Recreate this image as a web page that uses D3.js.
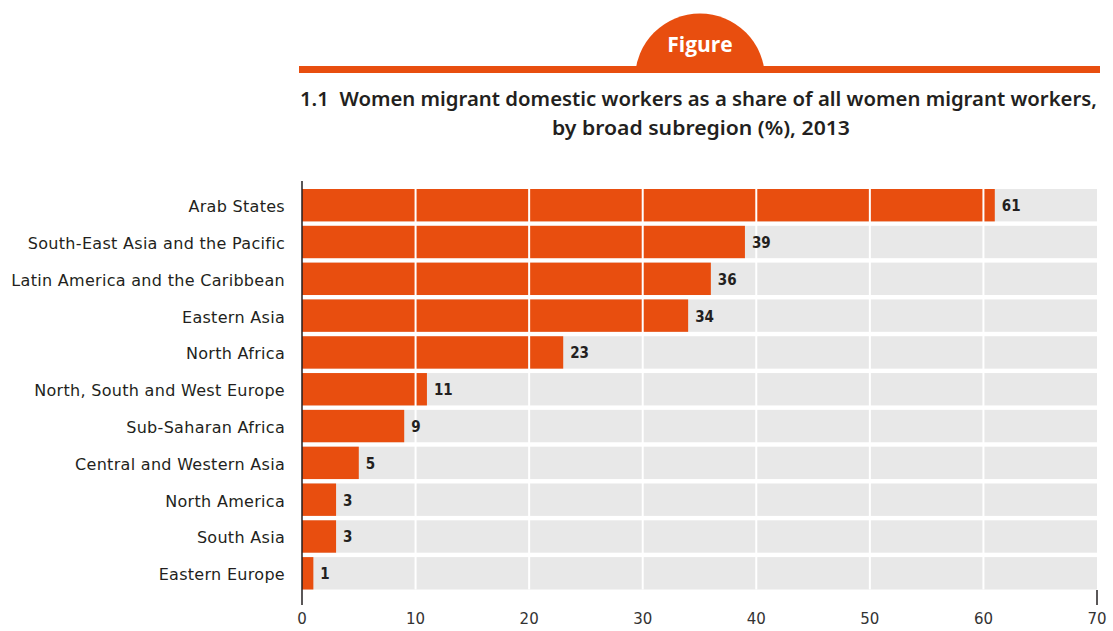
<html>
<head>
    <style>
        body { margin: 0; background: #fff; }
    </style>
    <script src="https://d3js.org/d3.v7.min.js"></script>
</head>
<body>
    <svg width=1113 height=631></svg>
</body>
<script>

    // values
    const categories = ["Arab States", "South-East Asia and the Pacific", "Latin America and the Caribbean",
        "Eastern Asia", "North Africa", "North, South and West Europe", "Sub-Saharan Africa",
        "Central and Western Asia", "North America", "South Asia", "Eastern Europe"];
    const shares = [61, 39, 36, 34, 23, 11, 9, 5, 3, 3, 1];
    const tickValues = [0, 10, 20, 30, 40, 50, 60, 70];
    const titleLines = ["1.1  Women migrant domestic workers as a share of all women migrant workers,",
        "by broad subregion (%), 2013"];

    const data = categories.map((c, i) => ({ name: c, value: shares[i] }));

    const orange = "#e84e0f";
    const grey = "#e8e8e8";
    const ink = "#231f20";
    const labelFont = "'DejaVu Sans', sans-serif";

    const svg = d3.select("svg");

    let x = d3.scaleLinear()
        .domain([0, 70])
        .range([302, 1097]);

    let y = d3.scaleBand()
        .domain(categories)
        .range([189, 589.5])
        .paddingInner(0.12)
        .paddingOuter(0);

    // header: orange rule with the "Figure" dome
    const header = svg.append("g");
    header.append("clipPath").attr("id", "dome")
        .append("rect").attr("x", 600).attr("y", 0).attr("width", 200).attr("height", 70);
    header.append("circle")
        .attr("cx", 700).attr("cy", 78.5).attr("r", 65)
        .attr("fill", orange)
        .attr("clip-path", "url(#dome)");
    header.append("rect")
        .attr("x", 299).attr("y", 66).attr("width", 801).attr("height", 7)
        .attr("fill", orange);
    header.append("text")
        .attr("x", 700).attr("y", 52)
        .attr("text-anchor", "middle")
        .attr("fill", "#fff")
        .style("font", "bold 21px 'Open Sans', sans-serif")
        .text("Figure");

    // title
    svg.append("text")
        .attr("x", 300).attr("y", 106)
        .attr("textLength", 797).attr("lengthAdjust", "spacingAndGlyphs")
        .attr("fill", ink)
        .style("white-space", "pre")
        .style("font", "600 20px 'Noto Sans', sans-serif")
        .text(titleLines[0]);
    svg.append("text")
        .attr("x", 552).attr("y", 135)
        .attr("textLength", 298).attr("lengthAdjust", "spacingAndGlyphs")
        .attr("fill", ink)
        .style("font", "600 20px 'Noto Sans', sans-serif")
        .text(titleLines[1]);

    // grey row backgrounds
    svg.append("g")
        .selectAll("rect")
        .data(data)
        .join("rect")
            .attr("x", x(0))
            .attr("y", d => y(d.name))
            .attr("width", x(70) - x(0))
            .attr("height", y.bandwidth())
            .attr("fill", grey);

    // bars
    svg.append("g")
        .selectAll("rect")
        .data(data)
        .join("rect")
            .attr("x", x(0))
            .attr("y", d => y(d.name))
            .attr("width", d => x(d.value) - x(0))
            .attr("height", y.bandwidth())
            .attr("fill", orange);

    // white vertical gridlines over bars
    svg.append("g")
        .selectAll("line")
        .data(tickValues.slice(1, -1))
        .join("line")
            .attr("x1", d => x(d)).attr("x2", d => x(d))
            .attr("y1", y.range()[0]).attr("y2", y.range()[1])
            .attr("stroke", "#fff")
            .attr("stroke-width", 2);

    // value labels
    svg.append("g")
        .selectAll("text")
        .data(data)
        .join("text")
            .attr("x", d => x(d.value) + 7)
            .attr("y", d => y(d.name) + y.bandwidth() / 2 + 6)
            .attr("fill", ink)
            .style("font", "bold 15px 'DejaVu Sans Condensed', sans-serif")
            .style("font-stretch", "condensed")
            .text(d => d.value);

    // category labels
    svg.append("g")
        .selectAll("text")
        .data(data)
        .join("text")
            .attr("x", 285)
            .attr("y", d => y(d.name) + y.bandwidth() / 2 + 7)
            .attr("text-anchor", "end")
            .attr("fill", ink)
            .style("font", `16px ${labelFont}`)
            .style("letter-spacing", "0.3px")
            .text(d => d.name);

    // axis lines
    svg.append("line")
        .attr("x1", x(0)).attr("x2", x(0))
        .attr("y1", 181).attr("y2", 605)
        .attr("stroke", ink).attr("stroke-width", 1.5);
    svg.append("line")
        .attr("x1", x(70)).attr("x2", x(70))
        .attr("y1", 590).attr("y2", 605)
        .attr("stroke", ink).attr("stroke-width", 1.5);

    // x tick labels
    svg.append("g")
        .selectAll("text")
        .data(tickValues)
        .join("text")
            .attr("x", d => x(d))
            .attr("y", 624)
            .attr("text-anchor", "middle")
            .attr("fill", "#333")
            .style("font", `15px ${labelFont}`)
            .text(d => d);

</script>
</html>
